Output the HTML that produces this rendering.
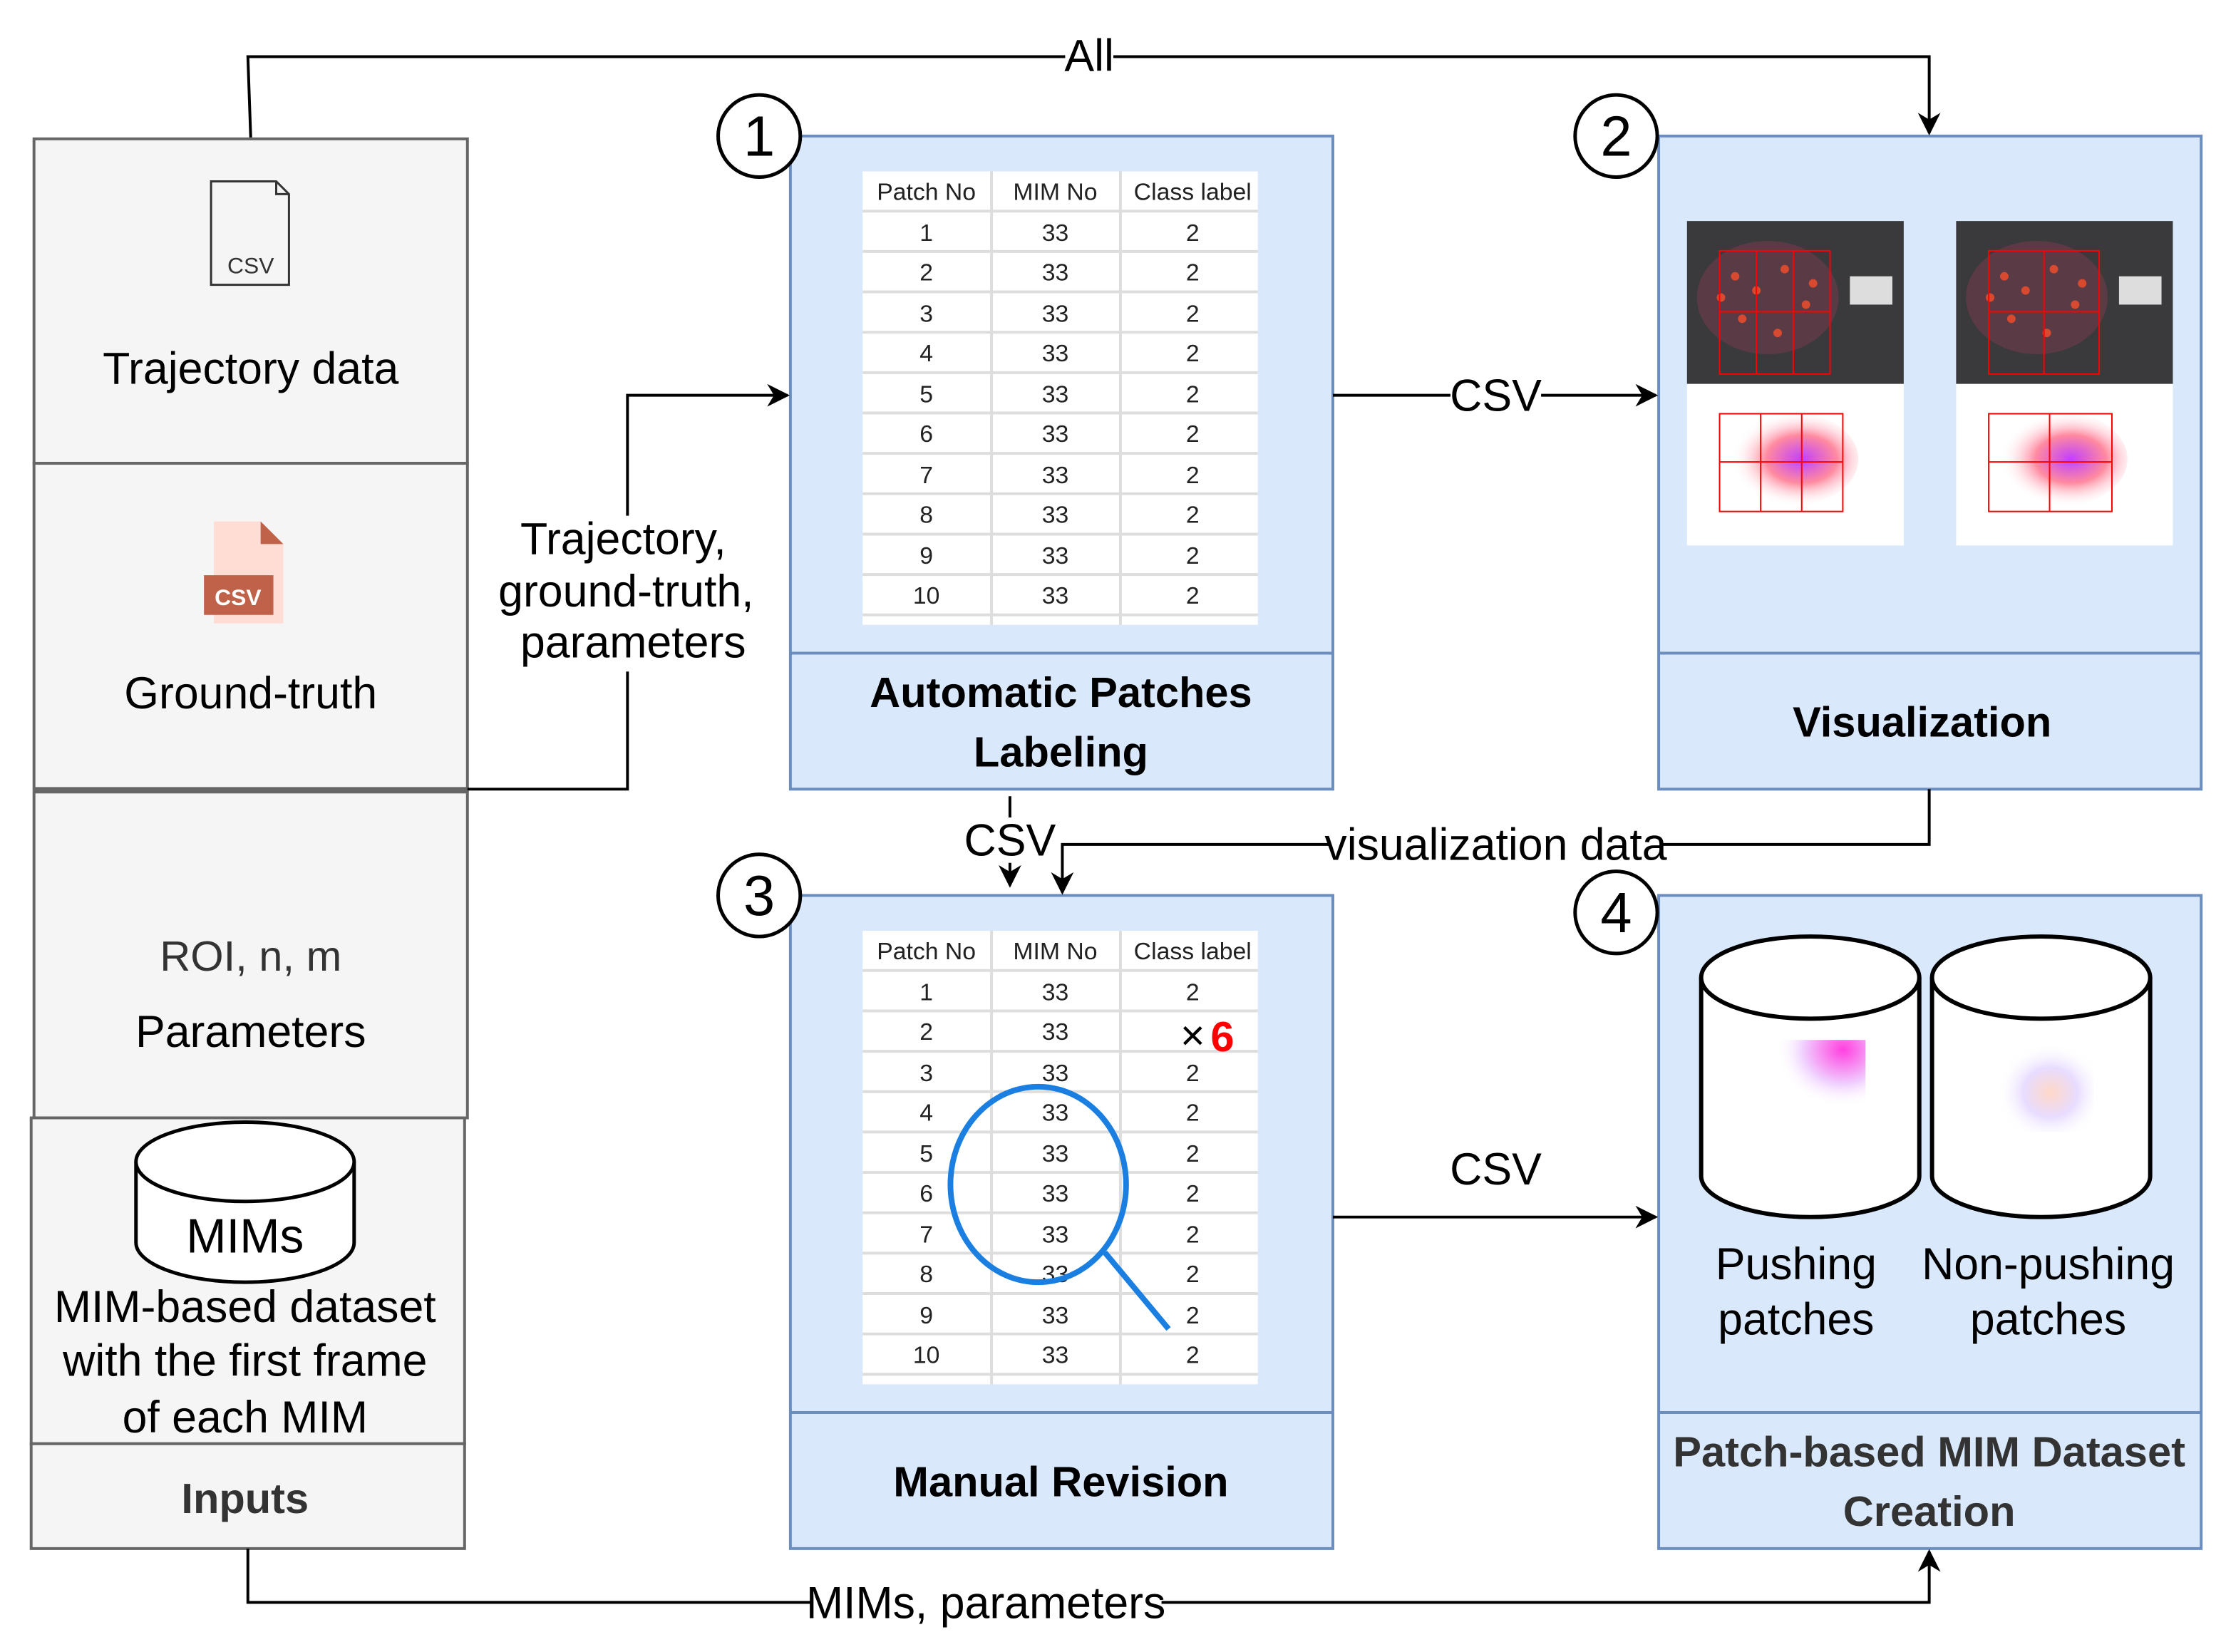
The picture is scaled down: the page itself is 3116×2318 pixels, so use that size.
<!DOCTYPE html>
<html><head><meta charset="utf-8"><style>
html,body{margin:0;padding:0;background:#fff;}
svg{display:block;}
text{font-family:"Liberation Sans",Arial,sans-serif;}
.t{font-size:17px;fill:#222;text-anchor:middle;}
.lbl{font-size:31.5px;fill:#000;text-anchor:middle;}
.ttl{font-size:30px;font-weight:bold;fill:#000;text-anchor:middle;}
</style></head><body>
<svg width="3116" height="2318" viewBox="0 0 1568 1166" preserveAspectRatio="none" xmlns="http://www.w3.org/2000/svg">
<defs>
<marker id="arb" viewBox="0 0 10 10" markerWidth="16" markerHeight="16" refX="9" refY="5" orient="auto" markerUnits="userSpaceOnUse"><path d="M0,0 L10,5 L0,10 L3,5 z" fill="#000"/></marker>
<radialGradient id="g1" cx="0.6" cy="0.5" r="0.5"><stop offset="0" stop-color="#c040ff"/><stop offset="0.5" stop-color="#ff8aa0"/><stop offset="1" stop-color="#fff" stop-opacity="0"/></radialGradient>
<radialGradient id="g2" cx="0.8" cy="0.1" r="0.6"><stop offset="0" stop-color="#ff40e0"/><stop offset="0.6" stop-color="#f0d0ff"/><stop offset="1" stop-color="#fff" stop-opacity="0"/></radialGradient>
<radialGradient id="g3" cx="0.6" cy="0.6" r="0.5"><stop offset="0" stop-color="#ffd8c8"/><stop offset="0.5" stop-color="#e8dcff"/><stop offset="1" stop-color="#fff" stop-opacity="0"/></radialGradient>
</defs>

<g fill="#f5f5f5" stroke="#666" stroke-width="2">
<rect x="24" y="98" width="306" height="229"/>
<rect x="24" y="327" width="306" height="230"/>
<rect x="24" y="559" width="306" height="230"/>
<rect x="22" y="789" width="306" height="230"/>
<rect x="22" y="1019" width="306" height="74"/>
</g>
<line x1="24" y1="557" x2="330" y2="557" stroke="#666" stroke-width="3"/>
<path d="M149,128 H195 L204,137 V201 H149 Z" fill="#f5f5f5" stroke="#333" stroke-width="1.5"/>
<path d="M195,128 V137 H204" fill="none" stroke="#333" stroke-width="1.5"/>
<text x="177" y="193" font-size="16" fill="#333" text-anchor="middle">CSV</text>
<text class="lbl" x="177" y="271">Trajectory data</text>
<path d="M151,368 H184 L200,384 V440 H151 Z" fill="#ffdcd4"/>
<path d="M184,368 L200,384 H184 Z" fill="#c0624a"/>
<rect x="144" y="406" width="49" height="28" fill="#c0624a"/>
<text x="168" y="427" font-size="16" font-weight="bold" fill="#fff" text-anchor="middle">CSV</text>
<text class="lbl" x="177" y="500">Ground-truth</text>
<text x="177" y="685" font-size="30" fill="#333" text-anchor="middle">ROI, n, m</text>
<text class="lbl" x="177" y="739">Parameters</text>
<path d="M96,820 V877 A77,28 0 0 0 250,877 V820" fill="#fff" stroke="#000" stroke-width="2.5"/>
<ellipse cx="173" cy="820" rx="77" ry="28" fill="#fff" stroke="#000" stroke-width="2.5"/>
<text x="173" y="884" font-size="34" text-anchor="middle">MIMs</text>
<text class="lbl" x="173" y="933">MIM-based dataset</text>
<text class="lbl" x="173" y="971">with the first frame</text>
<text class="lbl" x="173" y="1011">of each MIM</text>
<text x="173" y="1068" font-size="30" font-weight="bold" fill="#333" text-anchor="middle">Inputs</text>

<g fill="#dae8fc" stroke="#6c8ebf" stroke-width="2">
<rect x="558" y="96" width="383" height="461"/>
<rect x="1171" y="96" width="383" height="461"/>
<rect x="558" y="632" width="383" height="461"/>
<rect x="1171" y="632" width="383" height="461"/>
</g>
<g stroke="#6c8ebf" stroke-width="2">
<line x1="558" y1="461" x2="941" y2="461"/>
<line x1="1171" y1="461" x2="1554" y2="461"/>
<line x1="558" y1="997" x2="941" y2="997"/>
<line x1="1171" y1="997" x2="1554" y2="997"/>
</g>
<text class="ttl" x="749" y="499">Automatic Patches</text>
<text class="ttl" x="749" y="541">Labeling</text>
<text class="ttl" x="1357" y="520">Visualization</text>
<text class="ttl" x="749" y="1056">Manual Revision</text>
<text x="1362" y="1035" font-size="30" font-weight="bold" fill="#333" text-anchor="middle">Patch-based MIM Dataset</text>
<text x="1362" y="1077" font-size="30" font-weight="bold" fill="#333" text-anchor="middle">Creation</text>

<g fill="#fff" stroke="#000" stroke-width="2.5">
<circle cx="536" cy="96" r="29"/><circle cx="1141" cy="96" r="29"/>
<circle cx="536" cy="632" r="29"/><circle cx="1141" cy="644" r="29"/>
</g>
<g font-size="40" text-anchor="middle">
<text x="536" y="110">1</text><text x="1141" y="110">2</text>
<text x="536" y="646">3</text><text x="1141" y="658">4</text>
</g>

<g>
<rect x="609" y="121" width="279" height="320" fill="#fff"/>
<g stroke="#ddd" stroke-width="2">
<line x1="700" y1="121" x2="700" y2="441"/><line x1="791" y1="121" x2="791" y2="441"/>
<line x1="609" y1="149" x2="888" y2="149"/><line x1="609" y1="177.5" x2="888" y2="177.5"/>
<line x1="609" y1="206" x2="888" y2="206"/><line x1="609" y1="234.5" x2="888" y2="234.5"/>
<line x1="609" y1="263" x2="888" y2="263"/><line x1="609" y1="291.5" x2="888" y2="291.5"/>
<line x1="609" y1="320" x2="888" y2="320"/><line x1="609" y1="348.5" x2="888" y2="348.5"/>
<line x1="609" y1="377" x2="888" y2="377"/><line x1="609" y1="405.5" x2="888" y2="405.5"/>
<line x1="609" y1="434" x2="888" y2="434"/>
</g>
<text class="t" x="654" y="141">Patch No</text><text class="t" x="745" y="141">MIM No</text><text class="t" x="842" y="141">Class label</text>
<text class="t" x="654" y="170">1</text><text class="t" x="745" y="170">33</text><text class="t" x="842" y="170">2</text>
<text class="t" x="654" y="198">2</text><text class="t" x="745" y="198">33</text><text class="t" x="842" y="198">2</text>
<text class="t" x="654" y="227">3</text><text class="t" x="745" y="227">33</text><text class="t" x="842" y="227">2</text>
<text class="t" x="654" y="255">4</text><text class="t" x="745" y="255">33</text><text class="t" x="842" y="255">2</text>
<text class="t" x="654" y="284">5</text><text class="t" x="745" y="284">33</text><text class="t" x="842" y="284">2</text>
<text class="t" x="654" y="312">6</text><text class="t" x="745" y="312">33</text><text class="t" x="842" y="312">2</text>
<text class="t" x="654" y="341">7</text><text class="t" x="745" y="341">33</text><text class="t" x="842" y="341">2</text>
<text class="t" x="654" y="369">8</text><text class="t" x="745" y="369">33</text><text class="t" x="842" y="369">2</text>
<text class="t" x="654" y="398">9</text><text class="t" x="745" y="398">33</text><text class="t" x="842" y="398">2</text>
<text class="t" x="654" y="426">10</text><text class="t" x="745" y="426">33</text><text class="t" x="842" y="426">2</text>
</g>

<g transform="translate(0,536)">
<rect x="609" y="121" width="279" height="320" fill="#fff"/>
<g stroke="#ddd" stroke-width="2">
<line x1="700" y1="121" x2="700" y2="441"/><line x1="791" y1="121" x2="791" y2="441"/>
<line x1="609" y1="149" x2="888" y2="149"/><line x1="609" y1="177.5" x2="888" y2="177.5"/>
<line x1="609" y1="206" x2="888" y2="206"/><line x1="609" y1="234.5" x2="888" y2="234.5"/>
<line x1="609" y1="263" x2="888" y2="263"/><line x1="609" y1="291.5" x2="888" y2="291.5"/>
<line x1="609" y1="320" x2="888" y2="320"/><line x1="609" y1="348.5" x2="888" y2="348.5"/>
<line x1="609" y1="377" x2="888" y2="377"/><line x1="609" y1="405.5" x2="888" y2="405.5"/>
<line x1="609" y1="434" x2="888" y2="434"/>
</g>
<text class="t" x="654" y="141">Patch No</text><text class="t" x="745" y="141">MIM No</text><text class="t" x="842" y="141">Class label</text>
<text class="t" x="654" y="170">1</text><text class="t" x="745" y="170">33</text><text class="t" x="842" y="170">2</text>
<text class="t" x="654" y="198">2</text><text class="t" x="745" y="198">33</text>
<text class="t" x="654" y="227">3</text><text class="t" x="745" y="227">33</text><text class="t" x="842" y="227">2</text>
<text class="t" x="654" y="255">4</text><text class="t" x="745" y="255">33</text><text class="t" x="842" y="255">2</text>
<text class="t" x="654" y="284">5</text><text class="t" x="745" y="284">33</text><text class="t" x="842" y="284">2</text>
<text class="t" x="654" y="312">6</text><text class="t" x="745" y="312">33</text><text class="t" x="842" y="312">2</text>
<text class="t" x="654" y="341">7</text><text class="t" x="745" y="341">33</text><text class="t" x="842" y="341">2</text>
<text class="t" x="654" y="369">8</text><text class="t" x="745" y="369">33</text><text class="t" x="842" y="369">2</text>
<text class="t" x="654" y="398">9</text><text class="t" x="745" y="398">33</text><text class="t" x="842" y="398">2</text>
<text class="t" x="654" y="426">10</text><text class="t" x="745" y="426">33</text><text class="t" x="842" y="426">2</text>
</g>
<text x="842" y="741" font-size="30" text-anchor="middle" fill="#000">×</text>
<text x="863" y="742" font-size="30" font-weight="bold" fill="#f00" text-anchor="middle">6</text>
<ellipse cx="733" cy="836" rx="62" ry="69" fill="none" stroke="#1a7fe0" stroke-width="4"/>
<line x1="780" y1="884" x2="825" y2="938" stroke="#1a7fe0" stroke-width="4"/>

<g>
<rect x="1191" y="156" width="153" height="115" fill="#3a3a3c"/>
<rect x="1191" y="271" width="153" height="114" fill="#fff"/>
<rect x="1381" y="156" width="153" height="115" fill="#3a3a3c"/>
<rect x="1381" y="271" width="153" height="114" fill="#fff"/>
<ellipse cx="1248" cy="210" rx="50" ry="40" fill="#5a3a44"/>
<ellipse cx="1438" cy="210" rx="50" ry="40" fill="#5a3a44"/>
<g fill="#d84a30">
<circle cx="1225" cy="195" r="3"/><circle cx="1240" cy="205" r="3"/><circle cx="1260" cy="190" r="3"/><circle cx="1275" cy="215" r="3"/><circle cx="1230" cy="225" r="3"/><circle cx="1255" cy="235" r="3"/><circle cx="1280" cy="200" r="3"/><circle cx="1215" cy="210" r="3"/>
<circle cx="1415" cy="195" r="3"/><circle cx="1430" cy="205" r="3"/><circle cx="1450" cy="190" r="3"/><circle cx="1465" cy="215" r="3"/><circle cx="1420" cy="225" r="3"/><circle cx="1445" cy="235" r="3"/><circle cx="1470" cy="200" r="3"/><circle cx="1405" cy="210" r="3"/>
</g>
<rect x="1306" y="195" width="30" height="20" fill="#ddd"/>
<rect x="1496" y="195" width="30" height="20" fill="#ddd"/>
<ellipse cx="1262" cy="324" rx="50" ry="34" fill="url(#g1)"/>
<ellipse cx="1452" cy="324" rx="50" ry="34" fill="url(#g1)"/>
<g fill="none" stroke="#f00" stroke-width="1">
<rect x="1214" y="177" width="78" height="87"/><line x1="1240" y1="177" x2="1240" y2="264"/><line x1="1266" y1="177" x2="1266" y2="264"/><line x1="1214" y1="220" x2="1292" y2="220"/>
<rect x="1214" y="292" width="87" height="69"/><line x1="1243" y1="292" x2="1243" y2="361"/><line x1="1272" y1="292" x2="1272" y2="361"/><line x1="1214" y1="326" x2="1301" y2="326"/>
<rect x="1404" y="177" width="78" height="87"/><line x1="1443" y1="177" x2="1443" y2="264"/><line x1="1404" y1="220" x2="1482" y2="220"/>
<rect x="1404" y="292" width="87" height="69"/><line x1="1447" y1="292" x2="1447" y2="361"/><line x1="1404" y1="326" x2="1491" y2="326"/>
</g>
</g>

<path d="M1201,690 V830 A77,29 0 0 0 1355,830 V690" fill="#fff" stroke="#000" stroke-width="3"/>
<ellipse cx="1278" cy="690" rx="77" ry="29" fill="#fff" stroke="#000" stroke-width="3"/>
<path d="M1364,690 V830 A77,29 0 0 0 1518,830 V690" fill="#fff" stroke="#000" stroke-width="3"/>
<ellipse cx="1441" cy="690" rx="77" ry="29" fill="#fff" stroke="#000" stroke-width="3"/>
<rect x="1238" y="734" width="79" height="68" fill="url(#g2)"/>
<rect x="1402" y="729" width="76" height="70" fill="url(#g3)"/>
<text class="lbl" x="1268" y="903">Pushing</text>
<text class="lbl" x="1268" y="942">patches</text>
<text class="lbl" x="1446" y="903">Non-pushing</text>
<text class="lbl" x="1446" y="942">patches</text>

<g fill="none" stroke="#000" stroke-width="2">
<path d="M177,97 L175,40 H1362 V94" marker-end="url(#arb)"/>
<path d="M330,557 H443 V279 H556" marker-end="url(#arb)"/>
<path d="M941,279 H1169" marker-end="url(#arb)"/>
<path d="M713,562 V625" marker-end="url(#arb)"/>
<path d="M1362,557 V596 H750 V630" marker-end="url(#arb)"/>
<path d="M941,859 H1169" marker-end="url(#arb)"/>
<path d="M175,1093 V1131 H1362 V1095" marker-end="url(#arb)"/>
</g>
<rect x="752" y="26" width="34" height="28" fill="#fff"/>
<text class="lbl" x="769" y="50">All</text>
<rect x="348" y="364" width="189" height="110" fill="#fff"/>
<text class="lbl" x="440" y="391">Trajectory,</text>
<text class="lbl" x="442" y="428">ground-truth,</text>
<text class="lbl" x="447" y="464">parameters</text>
<rect x="1024" y="265" width="64" height="30" fill="#fff"/>
<text class="lbl" x="1056" y="290">CSV</text>
<rect x="682" y="577" width="62" height="32" fill="#fff"/>
<text class="lbl" x="713" y="604">CSV</text>
<rect x="938" y="582" width="236" height="30" fill="#fff"/>
<text class="lbl" x="1056" y="607">visualization data</text>
<text class="lbl" x="1056" y="836">CSV</text>
<rect x="572" y="1117" width="248" height="30" fill="#fff"/>
<text class="lbl" x="696" y="1142">MIMs, parameters</text>
</svg>
</body></html>
